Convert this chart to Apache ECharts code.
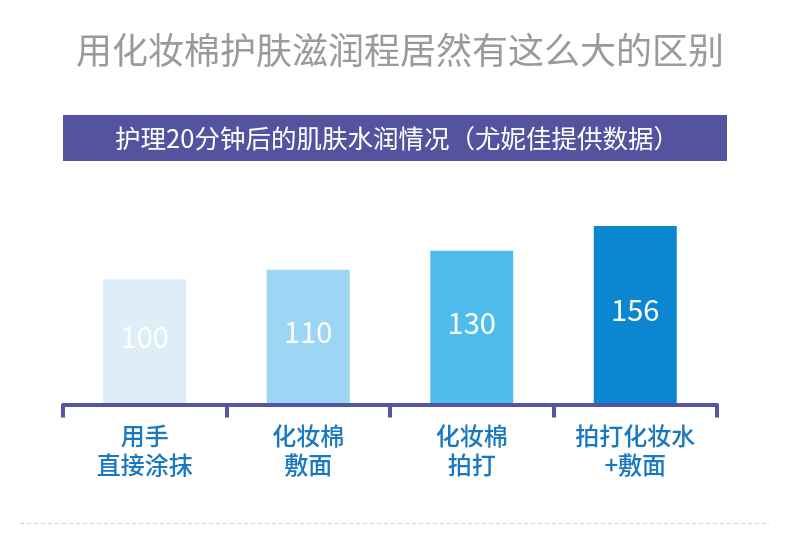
<!DOCTYPE html>
<html><head><meta charset="utf-8">
<script src="https://cdn.jsdelivr.net/npm/echarts@6/dist/echarts.min.js"></script>
<style>html,body{margin:0;padding:0;background:#fff}#c{width:790px;height:552px}</style>
</head><body><div id="c"></div>
<script>
const title = '用化妆棉护肤滋润程居然有这么大的区别';
const subtitle = '护理20分钟后的肌肤水润情况（尤妮佳提供数据）';
const categories = ['用手\n直接涂抹', '化妆棉\n敷面', '化妆棉\n拍打', '拍打化妆水\n+敷面'];
const values = [100, 110, 130, 156];
const barColors = ['#ddeef8', '#9dd6f4', '#4ebdee', '#0b87d2'];
const Y_MIN = -32, Y_MAX = 156;

const FONT = '"Noto Sans CJK SC", "Noto Sans", sans-serif';
const chart = echarts.init(document.getElementById('c'), null, {renderer: 'canvas'});
chart.setOption({
  animation: false,
  graphic: [
    {type: 'text', x: 400, y: 50, style: {text: title, fill: '#9a9a9a', font: '36px ' + FONT, align: 'center', verticalAlign: 'middle'}},
    {type: 'rect', shape: {x: 63, y: 115, width: 664, height: 46}, style: {fill: '#53539f'}},
    {type: 'text', x: 397, y: 138, style: {text: subtitle, fill: '#fff', font: '25.5px ' + FONT, align: 'center', verticalAlign: 'middle'}},
    {type: 'line', shape: {x1: 20, y1: 523.5, x2: 770, y2: 523.5}, style: {stroke: '#d0d0d0', lineWidth: 1, lineDash: [4, 3]}}
  ],
  grid: {left: 63, right: 73, top: 226, bottom: 147.5},
  xAxis: {
    type: 'category', data: categories, z: 5, boundaryGap: true,
    axisLine: {show: true, onZero: false, lineStyle: {color: '#5455a4', width: 4}},
    axisTick: {show: true, alignWithLabel: false, inside: false, length: 13, lineStyle: {color: '#5455a4', width: 4}},
    axisLabel: {color: '#1878c2', fontSize: 24, fontWeight: 500, lineHeight: 29, margin: 17, fontFamily: FONT}
  },
  yAxis: {type: 'value', min: Y_MIN, max: Y_MAX, show: false},
  series: [{
    type: 'custom',
    data: values.map((v, i) => [i, v]),
    renderItem: function (params, api) {
      const i = api.value(0), v = api.value(1);
      const top = api.coord([i, v]);
      const base = api.coord([i, Y_MIN]);
      const w = 83;
      const h = base[1] - top[1];
      return {type: 'group', children: [
        {type: 'rect', shape: {x: top[0] - w / 2, y: top[1], width: w, height: h}, style: {fill: barColors[i]}},
        {type: 'text', x: top[0], y: top[1] + h / 2 - 5, style: {text: String(v), fill: '#fff', font: '29px ' + FONT, align: 'center', verticalAlign: 'middle'}}
      ]};
    }
  }]
});
</script></body></html>
